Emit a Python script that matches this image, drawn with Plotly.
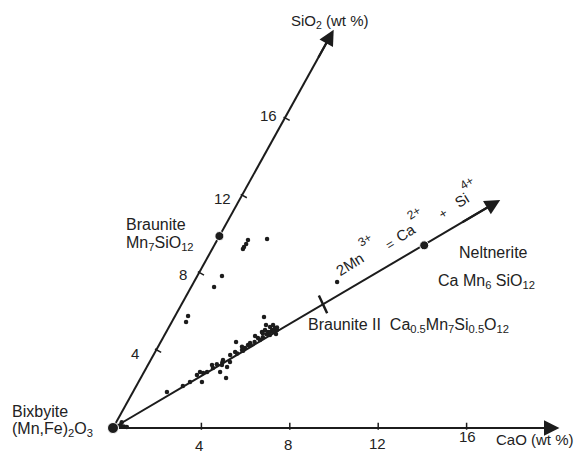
import math
import plotly.graph_objects as go

# ---------------- data (wt %) ----------------
# analyses: CaO and SiO2 in wt %
analysis_cao = [1.39, 1.41, 1.39, 1.39, 2.23, 1.12, 1.04, 0.59, 0.65, 4.05, 6.48, 3.41, 3.86, 1.54,
                2.53, 2.90, 3.27, 3.47, 3.62, 3.88, 4.07, 4.30, 4.33, 4.57, 4.66, 4.96, 4.77, 2.87,
                3.63, 3.44, 4.12, 4.42, 4.44, 4.61, 4.82, 4.03, 3.97, 4.74, 4.34, 5.02,
                2.47, 2.85, 3.02, 3.35, 3.64, 2.33, 2.11,
                3.75, 3.95, 4.15, 4.25, 4.50, 4.60, 4.70, 4.85, 3.30, 3.10, 2.70, 4.90, 4.40, 3.80,
                0.15, 0.30, 0.45, 0.60, 0.25]
analysis_sio2 = [9.36, 9.52, 9.73, 9.26, 9.78, 7.86, 7.29, 5.79, 5.48, 5.74, 7.55, 4.45, 2.59, 1.86,
                 2.90, 3.26, 3.52, 3.78, 3.93, 4.04, 4.40, 4.66, 4.97, 5.23, 5.33, 5.07, 4.81, 2.38,
                 3.16, 2.90, 4.76, 5.07, 4.55, 4.97, 5.17, 4.29, 4.14, 5.07, 5.33, 4.86,
                 2.74, 2.90, 3.10, 3.26, 3.41, 2.38, 2.17,
                 3.85, 4.00, 4.30, 4.45, 4.70, 4.85, 4.95, 5.00, 3.40, 3.30, 2.85, 5.20, 4.90, 4.20,
                 0.10, 0.12, 0.08, 0.05, 0.30]

# end members
member_cao = [0.0, 0.0, 9.5]
member_sio2 = [0.0, 9.93, 9.45]

# axis ticks
cao_ticks = [4, 8, 12, 16]
sio2_ticks = [4, 8, 12, 16]
cao_tick_labels = ["4", "8", "12", "16"]
sio2_tick_labels = ["4", "8", "12", "16"]

# axis ends (wt %)
cao_axis_end = 20.2
sio2_axis_end = 20.6
exchange_end = 11.8      # CaO = SiO2 along the 2Mn3+ = Ca2+ + Si4+ line
exchange_mark = 6.4

# ---------------- oblique transform ----------------
TH = math.radians(61)
PX = 22.1                # pixels per wt %
OX, OY = 113, 428        # origin in pixels
W, H = 582, 455


def tx(c, s):
    return c + s * math.cos(TH)


def ty(c, s):
    return s * math.sin(TH)


def P(px, py):
    return px / W, 1 - py / H


ink = "#1c1c1c"
FONT = "Liberation Sans"

fig = go.Figure()

# axis lines
fig.add_trace(go.Scatter(
    x=[tx(0, 0), tx(cao_axis_end - 0.5, 0), None, tx(0, 0), tx(0, sio2_axis_end - 0.5), None,
       tx(0, 0), tx(exchange_end - 0.4, exchange_end - 0.4)],
    y=[ty(0, 0), ty(cao_axis_end - 0.5, 0), None, ty(0, 0), ty(0, sio2_axis_end - 0.5), None,
       ty(0, 0), ty(exchange_end - 0.4, exchange_end - 0.4)],
    mode="lines", line=dict(color=ink, width=2), hoverinfo="skip", showlegend=False))

# tick marks
fig.add_trace(go.Scatter(
    x=[tx(v, 0) for v in cao_ticks], y=[ty(v, 0) + 0.08 for v in cao_ticks],
    mode="markers", marker=dict(symbol="line-ns", size=5, line=dict(color=ink, width=1.5)),
    hoverinfo="skip", showlegend=False))
fig.add_trace(go.Scatter(
    x=[tx(0, v) + 0.1 for v in sio2_ticks], y=[ty(0, v) for v in sio2_ticks],
    mode="markers", marker=dict(symbol="line-ew", size=5, angle=29, line=dict(color=ink, width=1.5)),
    hoverinfo="skip", showlegend=False))
fig.add_trace(go.Scatter(
    x=[tx(exchange_mark, exchange_mark)], y=[ty(exchange_mark, exchange_mark)],
    mode="markers", marker=dict(symbol="line-ns", size=14, angle=-25, line=dict(color=ink, width=2.5)),
    hoverinfo="skip", showlegend=False))

# analyses
fig.add_trace(go.Scatter(
    x=[tx(c, s) for c, s in zip(analysis_cao, analysis_sio2)],
    y=[ty(c, s) for c, s in zip(analysis_cao, analysis_sio2)],
    mode="markers", marker=dict(size=4.5, color=ink, opacity=1), hoverinfo="skip", showlegend=False))

# end members
fig.add_trace(go.Scatter(
    x=[tx(c, s) for c, s in zip(member_cao, member_sio2)],
    y=[ty(c, s) for c, s in zip(member_cao, member_sio2)],
    mode="markers", marker=dict(size=[11, 9, 9], color=ink, opacity=1),
    hoverinfo="skip", showlegend=False))

# arrow heads
for (c0, s0, c1, s1) in [(cao_axis_end - 1.5, 0, cao_axis_end, 0),
                         (0, sio2_axis_end - 1.5, 0, sio2_axis_end),
                         (exchange_end - 1.2, exchange_end - 1.2, exchange_end, exchange_end)]:
    fig.add_annotation(x=tx(c1, s1), y=ty(c1, s1), ax=tx(c0, s0), ay=ty(c0, s0),
                       xref="x", yref="y", axref="x", ayref="y", text="",
                       showarrow=True, arrowhead=2, arrowsize=1.4, arrowwidth=2.2,
                       arrowcolor=ink)


def label(px, py, text, size=16, xanchor="left", angle=0):
    x, y = P(px, py)
    fig.add_annotation(x=x, y=y, xref="paper", yref="paper", text=text, showarrow=False,
                       xanchor=xanchor, yanchor="middle", textangle=angle,
                       font=dict(family=FONT, size=size, color="#222"))


# tick labels
for t, (px, py) in zip(cao_tick_labels, [(199, 445), (288, 444), (377, 443), (467, 436)]):
    label(px, py, t, size=15, xanchor="center")
for t, (px, py) in zip(sio2_tick_labels, [(135, 353), (183, 274), (222, 198), (268, 116)]):
    label(px, py, t, size=15, xanchor="center")

# axis titles
label(494, 439, "CaO (wt %)", size=15)
label(289, 21, "SiO<sub>2</sub> (wt %)", size=15)

# mineral labels
label(10, 411, "Bixbyite")
label(10, 429, "(Mn,Fe)<sub>2</sub>O<sub>3</sub>")
label(124, 224, "Braunite")
label(124, 243, "Mn<sub>7</sub>SiO<sub>12</sub>")
label(457, 252, "Neltnerite")
label(436, 281, "Ca Mn<sub>6</sub> SiO<sub>12</sub>")
label(306, 325, "Braunite II  Ca<sub>0.5</sub>Mn<sub>7</sub>Si<sub>0.5</sub>O<sub>12</sub>")

# exchange reaction along line
label(349, 264, "2Mn", size=15, xanchor="center", angle=-32)
label(365, 240, "3+", size=12, xanchor="center", angle=-32)
label(390, 244, "=", size=13, xanchor="center", angle=-32)
label(406, 233, "Ca", size=15, xanchor="center", angle=-32)
label(414, 213, "2+", size=12, xanchor="center", angle=-32)
label(443, 213, "+", size=13, xanchor="center", angle=-32)
label(461, 200, "Si", size=15, xanchor="center", angle=-32)
label(467, 183, "4+", size=12, xanchor="center", angle=-32)

fig.update_layout(
    width=W, height=H, margin=dict(l=0, r=0, t=0, b=0),
    paper_bgcolor="white", plot_bgcolor="white",
    xaxis=dict(range=[-OX / PX, (W - OX) / PX], visible=False, fixedrange=True),
    yaxis=dict(range=[-(H - OY) / PX, OY / PX], visible=False, fixedrange=True),
)

fig.write_html("out.html", config={"displayModeBar": False},
               post_script="document.body.style.margin='0px';document.body.style.overflow='hidden';")
